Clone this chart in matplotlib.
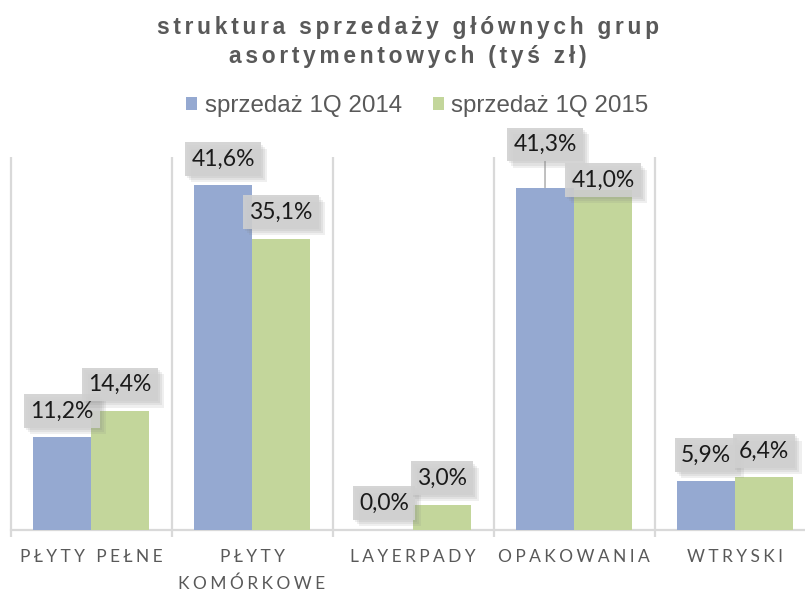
import matplotlib
matplotlib.use("Agg")
import matplotlib.pyplot as plt
import matplotlib.patheffects as pe

categories = ["PŁYTY PEŁNE", "PŁYTY\nKOMÓRKOWE", "LAYERPADY", "OPAKOWANIA", "WTRYSKI"]
series_names = ["sprzedaż 1Q 2014", "sprzedaż 1Q 2015"]
sales_2014 = [11.2, 41.6, 0.0, 41.3, 5.9]
sales_2015 = [14.4, 35.1, 3.0, 41.0, 6.4]

# label offsets above bar top (pixels), OPAKOWANIA labels were dragged in the original
label_dy_2014 = [26, 26, 27, 43, 26]
label_dy_2015 = [26, 27, 27, 10, 26]

BLUE = "#95a9d1"
GREEN = "#c3d69b"
GRID = "#d9d9d9"
TEXT_GRAY = "#595959"
HAIR = "\u200a"


def spaced(s, n):
    # fake letter spacing with hair spaces
    return "\n".join((HAIR * n).join(line) for line in s.split("\n"))


fig = plt.figure(figsize=(8.05, 5.92), dpi=100)
ax = fig.add_axes([10.5 / 805, 62 / 592, 1 - 10.5 / 805, 373 / 592])

x = list(range(len(categories)))
w = 0.36
bars1 = ax.bar([i - w / 2 for i in x], sales_2014, w, color=BLUE, label=series_names[0], zorder=2)
bars2 = ax.bar([i + w / 2 for i in x], sales_2015, w, color=GREEN, label=series_names[1], zorder=2)

ax.set_xlim(-0.5, -0.5 + (805 - 10.5) / 161)
ax.set_ylim(0, 45)

# category separators + baseline
bounds = [i - 0.5 for i in range(len(categories) + 1)]
ax.vlines(bounds, -0.9, 45, color=GRID, lw=1.6, clip_on=False, zorder=1)
ax.axhline(0, color=GRID, lw=1.6, zorder=1, clip_on=False)

for s in ax.spines.values():
    s.set_visible(False)
ax.set_yticks([])
ax.set_xticks(x)
ax.set_xticklabels([spaced(c, 3) for c in categories], family=["Lato", "DejaVu Sans"],
                   fontsize=12.5, color=TEXT_GRAY, linespacing=1.75)
ax.tick_params(axis="x", length=0, pad=14)

# soft-ish shadow: a few stacked offsets
shadow = [pe.SimplePatchShadow(offset=(o, -o), shadow_rgbFace="#808080", alpha=0.12)
          for o in (1.5, 3, 4.5)] + [pe.Normal()]
for bars, vals, dys in [(bars1, sales_2014, label_dy_2014), (bars2, sales_2015, label_dy_2015)]:
    for b, v, dy in zip(bars, vals, dys):
        cx = b.get_x() + b.get_width() / 2
        arrow = dict(arrowstyle="-", color="#a6a6a6", lw=1, shrinkA=0, shrinkB=0) if dy > 35 else None
        t = ax.annotate(f"{v:.1f}%".replace(".", ","), xy=(cx, v), xytext=(0, dy),
                        textcoords="offset pixels", ha="center", va="center",
                        fontsize=16.5, family=["Lato", "DejaVu Sans"], color="#1a1a1a",
                        bbox=dict(boxstyle="square,pad=0.27", fc="#d0d0d0", ec="none", alpha=0.88),
                        arrowprops=arrow, zorder=5)
        t.get_bbox_patch().set_path_effects(shadow)

fig.text(0.507, 1 - 42 / 592,
         spaced("struktura sprzedaży głównych grup\nasortymentowych (tyś zł)", 2),
         ha="center", va="center", fontsize=16.4, fontweight="bold", color=TEXT_GRAY,
         family=["Liberation Sans", "DejaVu Sans"], linespacing=1.3)

fig.legend(loc="center", bbox_to_anchor=(417.5 / 805, 1 - 106 / 592), ncol=2, frameon=False,
           prop={"family": "Liberation Sans", "size": 17.4}, labelcolor=TEXT_GRAY,
           handlelength=0.45, handleheight=0.45, handletextpad=0.3, columnspacing=1.3)

fig.savefig("out.png", dpi=100)
